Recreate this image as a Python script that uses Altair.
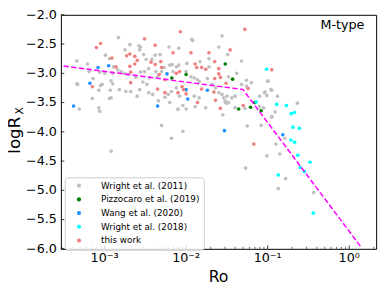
import altair as alt
import pandas as pd

# ---- data: log10(Ro) and log R_X ----
w11_logro = [-2.83, -3.34, -3.21, -2.99, -2.94, -2.69, -2.75, -2.58, -2.56, -2.57, -2.52, -2.38, -2.32, -2.49,
             -2.42, -2.89, -2.84, -2.80, -2.76, -2.72, -2.90, -3.00, -3.06, -3.19, -3.14, -3.33, -3.05, -3.03,
             -2.92, -2.90, -3.07, -2.93, -2.94, -3.15, -2.74, -2.68, -2.57, -2.48, -2.46, -2.41, -2.56, -2.51,
             -2.46, -2.37, -2.35, -2.30, -2.27, -2.53, -2.62, -2.82, -2.45, -3.31, -3.07, -2.60, -2.34, -2.26,
             -3.34, -3.06, -2.92, -2.30, -2.92, -2.18, -2.04, -2.00,
             -2.10, -2.04, -1.89, -1.55, -1.25, -1.08, -0.95, -1.01, -1.27, -1.52, -1.50, -1.10, -1.05,
             -0.995, -0.95, -1.03, -1.01, -0.88, -0.635, -0.91, -0.95, -0.79, -0.90,
             -0.85, -0.78, -0.87, -0.435,
             -1.93, -1.56, -2.21, -2.09, -1.60, -1.49, -1.72, -1.83, -2.20, -2.17, -2.12, -2.09, -1.99, -1.72,
             -1.32, -2.16, -2.00, -1.94, -1.90, -1.86, -1.84, -1.74, -1.48, -1.38, -1.32, -1.26, -1.20, -1.68,
             -1.64, -1.60, -1.56, -1.54, -1.50, -1.52, -1.48, -2.12, -2.18, -2.22, -2.08, -2.20, -1.90, -1.84,
             -1.44, -1.40, -1.10, -1.04, -0.96, -1.00, -1.76, -2.10, -1.40, -1.28,
             -1.92, -1.26]
w11_logrx = [-2.39, -2.79, -2.84, -2.69, -2.75, -2.51, -2.60, -2.53, -2.55, -2.60, -2.68, -2.69, -2.68, -2.76,
             -2.76, -2.89, -2.94, -2.97, -3.00, -3.02, -3.00, -3.00, -2.98, -2.97, -3.09, -3.19, -3.21, -3.19,
             -3.13, -3.18, -3.29, -3.29, -3.43, -3.43, -3.31, -3.31, -3.28, -3.19, -3.33, -3.36, -2.98, -2.97,
             -2.92, -2.97, -3.06, -2.97, -2.90, -3.15, -3.07, -3.28, -3.08, -3.61, -3.59, -3.39, -3.47, -3.41,
             -3.18, -3.65, -3.42, -3.89, -4.33, -4.11, -3.99, -3.61,
             -3.62, -3.55, -3.57, -3.71, -3.90, -3.89, -3.74, -4.41, -4.62, -3.50, -3.51, -3.57, -3.59,
             -3.13, -3.29, -3.32, -3.38, -3.39, -3.51, -3.66, -3.75, -4.11, -4.21,
             -4.38, -4.80, -4.97, -5.04,
             -2.42, -2.36, -2.55, -2.57, -2.55, -2.68, -2.75, -2.80, -2.86, -2.85, -2.89, -2.86, -2.83, -2.89,
             -2.79, -2.97, -2.97, -3.06, -3.08, -3.11, -3.14, -3.09, -3.06, -3.00, -3.19, -3.22, -3.16, -3.19,
             -3.25, -3.33, -3.36, -3.42, -3.39, -3.47, -3.50, -3.25, -3.31, -3.36, -3.39, -3.50, -3.39, -3.42,
             -3.42, -3.39, -3.39, -3.33, -3.28, -3.14, -3.59, -3.61, -3.59, -3.60,
             -2.44, -3.12]

p19_logro = [-2.175, -2.00, -1.52, -1.43, -1.355, -1.21, -1.16, -1.08]
p19_logrx = [-3.08, -3.02, -2.84, -3.10, -3.61, -3.58, -3.50, -3.64]

w20_logro = [-2.95, -3.08, -3.18, -3.38, -2.35, -2.235, -1.98, -2.00, -1.74, -1.53, -0.815]
w20_logrx = [-2.87, -2.90, -3.17, -3.56, -3.56, -3.01, -3.44, -3.28, -3.29, -3.98, -4.05]

w18_logro = [-1.015, -1.14, -0.89, -0.77, -0.71, -0.67, -0.69, -0.61, -0.715, -0.67, -0.63, -0.48, -0.60,
             -0.55, -0.87, -0.44]
w18_logrx = [-2.93, -3.49, -3.53, -3.55, -3.69, -3.67, -3.92, -3.94, -4.14, -4.18, -4.40, -4.52, -4.61,
             -4.68, -4.74, -5.39]

tw_logro = [-3.05, -3.10, -2.51, -2.38, -2.91, -2.69, -2.73, -2.63, -2.60, -2.86, -2.63, -2.69, -2.68, -2.68,
            -3.15, -2.43, -2.38, -2.31, -2.30, -2.33, -2.26, -2.35, -2.26,
            -1.28, -2.07, -1.46, -1.94, -1.72, -2.16, -1.65, -1.89, -1.87, -1.81, -1.76, -1.60, -0.95, -2.08,
            -2.12, -1.60, -1.58, -1.65, -1.51, -1.81, -2.05, -2.03, -2.10, -2.00, -1.66, -1.86, -1.64, -1.58,
            -1.30, -1.24, -1.17]
tw_logrx = [-2.49, -2.56, -2.41, -2.52, -2.74, -2.67, -2.70, -2.71, -2.78, -2.89, -2.84, -2.88, -2.98, -3.16,
            -3.23, -2.81, -2.85, -2.80, -2.90, -3.02, -3.11, -3.27, -3.33,
            -2.25, -2.29, -2.60, -2.65, -2.65, -2.65, -2.80, -2.84, -2.90, -2.90, -2.93, -2.92, -2.94, -2.97,
            -3.00, -3.01, -3.07, -3.09, -3.17, -3.27, -3.23, -3.28, -3.33, -3.35, -3.32, -3.50, -3.46, -3.60,
            -3.55, -3.26, -4.21]

fit_logro = [-3.504, -1.304, 0.145]
fit_logrx = [-2.876, -3.277, -5.97]

sources = ["Wright et al. (2011)", "Pizzocaro et al. (2019)", "Wang et al. (2020)",
           "Wright et al. (2018)", "this work"]
colors = ["#c0c0c0", "#008000", "#1e90ff", "#00ffff", "#f08080"]

x_major = [0.001, 0.01, 0.1, 1]
x_labels = ["10⁻³", "10⁻²", "10⁻¹", "10⁰"]
x_minor = [3e-4, 4e-4, 5e-4, 6e-4, 7e-4, 8e-4, 9e-4,
           2e-3, 3e-3, 4e-3, 5e-3, 6e-3, 7e-3, 8e-3, 9e-3,
           2e-2, 3e-2, 4e-2, 5e-2, 6e-2, 7e-2, 8e-2, 9e-2,
           0.2, 0.3, 0.4, 0.5, 0.6, 0.7, 0.8, 0.9, 2]
y_ticks = [-6.0, -5.5, -5.0, -4.5, -4.0, -3.5, -3.0, -2.5, -2.0]
y_labels = ["−6.0", "−5.5", "−5.0", "−4.5", "−4.0", "−3.5", "−3.0", "−2.5", "−2.0"]

# ---- tables ----
series = [(w11_logro, w11_logrx), (p19_logro, p19_logrx), (w20_logro, w20_logrx),
          (w18_logro, w18_logrx), (tw_logro, tw_logrx)]
rows = []
for name, (lx, ly) in zip(sources, series):
    for a, b in zip(lx, ly):
        rows.append({"Ro": 10 ** a, "logRx": b, "source": name})
df = pd.DataFrame(rows)
fit_df = pd.DataFrame({"Ro": [10 ** v for v in fit_logro], "logRx": fit_logrx})

W, H = 322, 239
FONT = "DejaVu Sans"
xscale = alt.Scale(type="log", domain=[2.91e-4, 2.14], nice=False)
yscale = alt.Scale(domain=[-6, -2], nice=False, zero=False)

points = alt.Chart(df).mark_circle(size=14, opacity=1).encode(
    x=alt.X("Ro:Q", scale=xscale, axis=None),
    y=alt.Y("logRx:Q", scale=yscale, axis=None),
    color=alt.Color("source:N", scale=alt.Scale(domain=sources, range=colors),
                    legend=alt.Legend(title=None, orient="none", legendX=4, legendY=166,
                                      fillColor="rgba(255,255,255,0.8)", strokeColor="#cccccc",
                                      cornerRadius=3, padding=4, symbolType="circle", symbolSize=18,
                                      symbolStrokeWidth=0, symbolOffset=6, labelOffset=18,
                                      labelFont=FONT, labelFontSize=9, labelColor="black",
                                      rowPadding=4)),
)

fit = alt.Chart(fit_df).mark_line(color="magenta", strokeWidth=1.5, strokeDash=[5.5, 2.4]).encode(
    x=alt.X("Ro:Q", scale=xscale, axis=None),
    y=alt.Y("logRx:Q", scale=yscale, axis=None),
)

xmaj = alt.Chart(pd.DataFrame({"v": x_major})).mark_rule(color="black", strokeWidth=0.8).encode(
    x=alt.X("v:Q", scale=xscale, axis=None), y=alt.value(H), y2=alt.value(H - 3.5))
xmin = alt.Chart(pd.DataFrame({"v": x_minor})).mark_rule(color="black", strokeWidth=0.6).encode(
    x=alt.X("v:Q", scale=xscale, axis=None), y=alt.value(H), y2=alt.value(H - 2))
ymaj = alt.Chart(pd.DataFrame({"v": y_ticks})).mark_rule(color="black", strokeWidth=0.8).encode(
    y=alt.Y("v:Q", scale=yscale, axis=None), x=alt.value(0), x2=alt.value(3.5))

xlab = alt.Chart(pd.DataFrame({"v": x_major, "t": x_labels})).mark_text(
    font=FONT, fontSize=13, baseline="top", align="center", color="black").encode(
    x=alt.X("v:Q", scale=xscale, axis=None), y=alt.value(H + 3), text="t:N")
ylab = alt.Chart(pd.DataFrame({"v": y_ticks, "t": y_labels})).mark_text(
    font=FONT, fontSize=13, baseline="middle", align="right", color="black").encode(
    y=alt.Y("v:Q", scale=yscale, axis=None), x=alt.value(-4), text="t:N")

xtitle = alt.Chart(pd.DataFrame({"t": ["Ro"]})).mark_text(
    font=FONT, fontSize=16, baseline="alphabetic", align="center", color="black").encode(
    text="t:N", x=alt.value(W / 2), y=alt.value(273))
ytitle = alt.Chart(pd.DataFrame({"t": ["logR"]})).mark_text(
    font=FONT, fontSize=17, baseline="alphabetic", align="center", angle=270, color="black").encode(
    text="t:N", x=alt.value(-42), y=alt.value(123))
ysub = alt.Chart(pd.DataFrame({"t": ["X"]})).mark_text(
    font=FONT, fontSize=11, baseline="alphabetic", align="center", angle=270, color="black").encode(
    text="t:N", x=alt.value(-38.5), y=alt.value(98))
tag = alt.Chart(pd.DataFrame({"t": ["M-type"]})).mark_text(
    font=FONT, fontSize=13, baseline="alphabetic", align="right", color="black").encode(
    text="t:N", x=alt.value(W - 12), y=alt.value(14.7))

chart = alt.layer(points, fit, xmaj, xmin, ymaj, xlab, ylab, xtitle, ytitle, ysub, tag).properties(
    width=W, height=H,
    padding={"left": 54, "top": 4, "right": 7, "bottom": 35},
    autosize=alt.AutoSizeParams(type="none"),
).configure_view(stroke="black", strokeWidth=1)

chart.save("out.html", embed_options={"renderer": "svg", "actions": False})
